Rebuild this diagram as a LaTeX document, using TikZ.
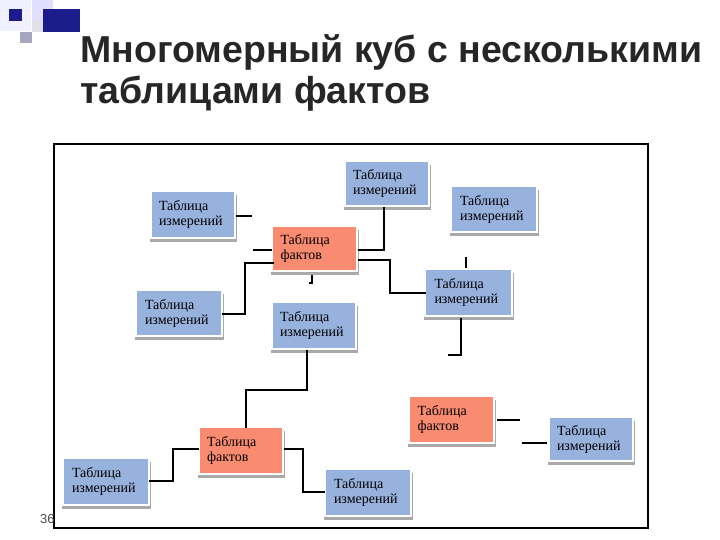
\documentclass[tikz,border=0pt]{standalone}
\usepackage{fontspec}
\setmainfont{Liberation Serif}
\newfontfamily\titlefont{Liberation Sans}
\definecolor{dimblue}{HTML}{98B2DE}
\definecolor{factred}{HTML}{F98B70}
\definecolor{shadowc}{HTML}{A9A9A9}
\definecolor{navy}{HTML}{1C1C8C}
\begin{document}
\begin{tikzpicture}[x=1pt,y=-1pt,
  box/.style={inner sep=0pt, text width=70pt, align=left, font=\fontsize{14}{15}\selectfont, text=black},
  link/.style={draw=black, line width=1.1pt},
  frame/.style={draw=black, line width=1.4pt}]
\useasboundingbox (0,0) rectangle (720,540);
\fill[white] (0,0) rectangle (720,540);
% corner decoration
\fill[black!8!blue!6] (0,0) rectangle (31,31);
\fill[black!10!blue!12] (32,0) rectangle (53,22);
\fill[navy] (9,9) rectangle (22,21);
\fill[navy] (43,9) rectangle (80,32);
\fill[blue!30!black!35] (20,32) rectangle (32,43);
\fill[blue!15!black!12] (32,21) rectangle (43,32);
% title
\node[anchor=base west, align=left, font=\titlefont\bfseries\fontsize{37.5}{41}\selectfont, text=black!85, inner sep=0] (title) at (80,104) {Многомерный куб с несколькими\\таблицами фактов};
% frame
\draw[frame] (54,144) rectangle (648,528);
\node[anchor=base west, inner sep=0, font=\titlefont\fontsize{13}{13}\selectfont, text=black!70] (num) at (40,523) {36};
\newcommand\tbox[7]{%
  \fill[shadowc] (#2-2,#3+3) rectangle (#4+3,#5+5);
  \fill[white] (#2-2,#3-2) rectangle (#4+2,#5+2);
  \fill[#6] (#2,#3) rectangle (#4,#5);
  \node[box] (#1) at ({(#2+#4)/2+1},{(#3+#5)/2}) {Таблица\\#7};
  \coordinate (#1nw) at (#2,#3);
  \coordinate (#1se) at (#4,#5);
}
\tbox{b1}{152}{192}{234}{237}{dimblue}{измерений}
\tbox{b2}{346}{162}{428}{205}{dimblue}{измерений}
\tbox{b3}{452}{187}{536}{231}{dimblue}{измерений}
\tbox{b4}{273}{227}{356}{270}{factred}{фактов}
\tbox{b5}{426}{270}{511}{315}{dimblue}{измерений}
\tbox{b6}{137}{291}{221}{335}{dimblue}{измерений}
\tbox{b7}{273}{303}{355}{348}{dimblue}{измерений}
\tbox{b8}{410}{397}{493}{442}{factred}{фактов}
\tbox{b9}{200}{428}{282}{473}{factred}{фактов}
\tbox{b10}{550}{418}{632}{460}{dimblue}{измерений}
\tbox{b11}{64}{459}{148}{504}{dimblue}{измерений}
\tbox{b12}{326}{470}{410}{515}{dimblue}{измерений}
% free stub ends
\coordinate (s1a) at (236,216); \coordinate (s1b) at (252,216);
\coordinate (s2a) at (253,250); \coordinate (s2b) at (272,250);
\coordinate (s6a) at (312,275); \coordinate (s6b) at (312,283); \coordinate (s6c) at (309,283);
\coordinate (s7a) at (466,257); \coordinate (s7b) at (466,268);
\coordinate (s8a) at (461,318); \coordinate (s8b) at (461,355); \coordinate (s8c) at (448,355);
\coordinate (s12a) at (497,420); \coordinate (s12b) at (520,420);
\coordinate (s13a) at (522,443); \coordinate (s13b) at (547,443);
\draw[link] (s1a) -- (s1b);
\draw[link] (s2a) -- (s2b);
\draw[link] (s6a) -- (s6b) -- (s6c);
\draw[link] (s7a) -- (s7b);
\draw[link] (s8a) -- (s8b) -- (s8c);
\draw[link] (s12a) -- (s12b);
\draw[link] (s13a) -- (s13b);
% connectors
\draw[link] (384,207) -- (384,250) -- (358,250);
\draw[link] (358,260) -- (390,260) -- (390,293) -- (426,293);
\draw[link] (274,263) -- (245,263) -- (245,314) -- (222,314);
\draw[link] (307,350) -- (307,390) -- (246,390) -- (246,428);
\draw[link] (199,449) -- (173,449) -- (173,481) -- (149,481);
\draw[link] (284,449) -- (303,449) -- (303,492) -- (325,492);
\end{tikzpicture}
\end{document}
